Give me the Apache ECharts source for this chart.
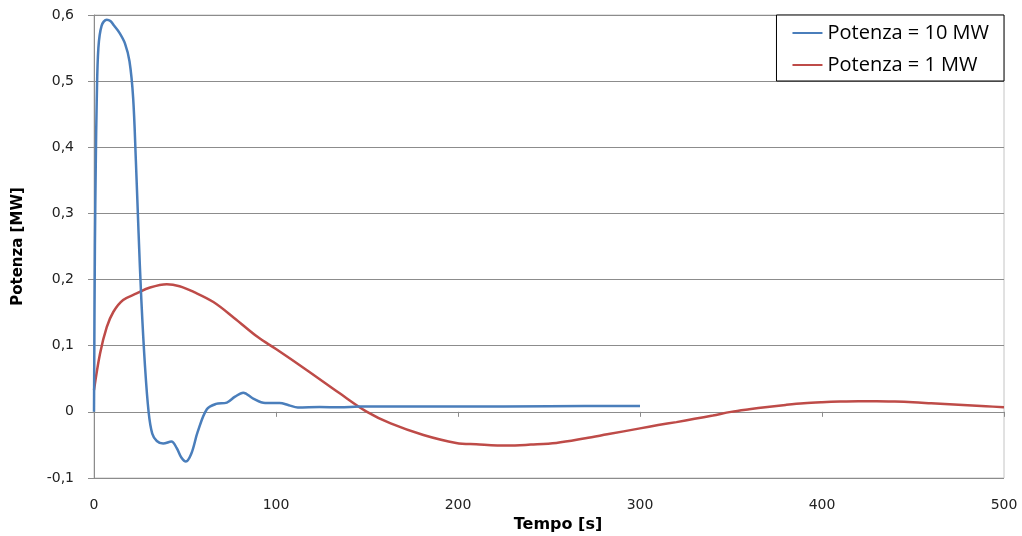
<!DOCTYPE html>
<html>
<head>
<meta charset="utf-8">
<title>Potenza</title>
<script src="https://cdn.jsdelivr.net/npm/echarts@6/dist/echarts.min.js"></script>
<style>
  html, body { margin: 0; padding: 0; background: #ffffff; }
  #chart { width: 1022px; height: 536px; }
</style>
</head>
<body>
<div id="chart"></div>
<script>
// Series names
const seriesNames = ['Potenza = 10 MW', 'Potenza = 1 MW'];

// Potenza = 10 MW: time [s] and power [MW]
const time10 = [0, 0.5, 1, 1.5, 2.4, 4.2, 7, 9, 11, 14, 17, 19.5, 21.5, 23, 24.5, 26, 28, 30, 32, 34.5,
  38, 42.5, 45.5, 48, 50.5, 53.5, 57, 62, 67, 73, 77.5, 82, 87.5, 94, 102, 107, 112, 124, 135, 146,
  170, 200, 250, 300];
const power10 = [0, 0.25, 0.38, 0.47, 0.55, 0.584, 0.593, 0.591, 0.584, 0.573, 0.557, 0.53, 0.475, 0.38, 0.27,
  0.17, 0.07, 0.0, -0.033, -0.044, -0.048, -0.045, -0.055, -0.069, -0.075, -0.063, -0.03, 0.004, 0.012,
  0.014, 0.023, 0.029, 0.02, 0.0135, 0.0135, 0.010, 0.0066, 0.0075, 0.0068, 0.008, 0.008, 0.008, 0.0085, 0.009];

// Potenza = 1 MW: time [s] and power [MW]
const time1 = [0, 3.3, 7, 10.6, 16, 23.4, 30.8, 40, 47, 55, 65.6, 77, 90, 100, 117, 135, 150, 163, 181, 199,
  210, 227, 240, 254, 270, 282, 300, 310, 320, 330, 340, 350, 360, 370, 380, 390, 400, 410, 420, 430,
  440, 450, 460, 470, 480, 490, 500];
const power1 = [0.033, 0.088, 0.128, 0.151, 0.169, 0.179, 0.188, 0.193, 0.19, 0.181, 0.166, 0.142, 0.113, 0.095,
  0.063, 0.028, 0.0, -0.0175, -0.035, -0.047, -0.049, -0.051, -0.0495, -0.047, -0.04, -0.034, -0.025,
  -0.02, -0.0155, -0.0105, -0.0055, 0, 0.004, 0.0075, 0.0105, 0.013, 0.0145, 0.0155, 0.016, 0.016,
  0.0155, 0.0145, 0.013, 0.0115, 0.01, 0.0085, 0.007];

// Axis ranges
const xRange = [0, 500, 100];
const yRange = [-0.1, 0.6, 0.1];

const zip = (xs, ys) => xs.map((x, i) => [x, ys[i]]);

const fmtComma = v => (Math.abs(v) < 1e-9 ? '0' : v.toFixed(1).replace('.', ','));

const chart = echarts.init(document.getElementById('chart'), null, { renderer: 'canvas' });

chart.setOption({
  animation: false,
  backgroundColor: '#ffffff',
  grid: {
    left: 94, right: 18, top: 15, bottom: 58,
    outerBoundsMode: 'none',
    show: true, borderColor: '#c4c4c4', borderWidth: 1, backgroundColor: 'transparent'
  },
  legend: {
    data: seriesNames,
    orient: 'vertical',
    right: 18,
    top: 15,
    padding: [8, 15, 6, 15],
    itemGap: 12,
    itemWidth: 30,
    itemHeight: 14,
    backgroundColor: '#ffffff',
    borderColor: '#000000',
    borderWidth: 1,
    itemStyle: { opacity: 0 },
    textStyle: { fontFamily: 'Open Sans', fontSize: 20, color: '#000000' }
  },
  xAxis: [
    {
      // bottom axis: carries the tick labels and the title
      type: 'value',
      position: 'bottom',
      min: xRange[0], max: xRange[1], interval: xRange[2],
      axisLine: { show: false, onZero: false },
      axisTick: { show: false },
      splitLine: { show: false },
      axisLabel: {
        margin: 20, fontFamily: 'DejaVu Sans', fontSize: 14, color: '#222222'
      },
      name: 'Tempo [s]',
      nameLocation: 'middle',
      nameGap: 37,
      nameTextStyle: {
        fontFamily: 'DejaVu Sans', fontWeight: 'bold', fontSize: 16, color: '#000000',
        padding: [0, 0, 0, 18]
      }
    },
    {
      // zero line with its tick marks
      type: 'value',
      position: 'top',
      min: xRange[0], max: xRange[1], interval: xRange[2],
      axisLine: { show: true, onZero: true, lineStyle: { color: '#8c8c8c', width: 1 } },
      axisTick: { show: true, inside: true, length: 5, lineStyle: { color: '#8c8c8c' } },
      splitLine: { show: false },
      axisLabel: { show: false }
    }
  ],
  yAxis: {
    type: 'value',
    min: yRange[0], max: yRange[1], interval: yRange[2],
    axisLine: { show: true, lineStyle: { color: '#8c8c8c', width: 1 } },
    axisTick: { show: true, length: 6, lineStyle: { color: '#8c8c8c' } },
    splitLine: { show: true, lineStyle: { color: '#8c8c8c', width: 1 } },
    axisLabel: {
      margin: 20, fontFamily: 'DejaVu Sans', fontSize: 14, color: '#222222',
      formatter: fmtComma
    },
    name: 'Potenza [MW]',
    nameLocation: 'middle',
    nameGap: 68,
    nameRotate: 90,
    nameTextStyle: {
      fontFamily: 'DejaVu Sans', fontWeight: 'bold', fontSize: 15, color: '#000000'
    }
  },
  series: [
    {
      name: seriesNames[0],
      type: 'line',
      xAxisIndex: 0,
      data: zip(time10, power10),
      smooth: 0.35,
      symbol: 'none',
      lineStyle: { color: '#4a7ebb', width: 2.5 },
      itemStyle: { color: '#4a7ebb' },
      z: 3
    },
    {
      name: seriesNames[1],
      type: 'line',
      xAxisIndex: 0,
      data: zip(time1, power1),
      smooth: 0.35,
      symbol: 'none',
      lineStyle: { color: '#be4b48', width: 2.5 },
      itemStyle: { color: '#be4b48' },
      z: 2
    }
  ]
});
</script>
</body>
</html>
